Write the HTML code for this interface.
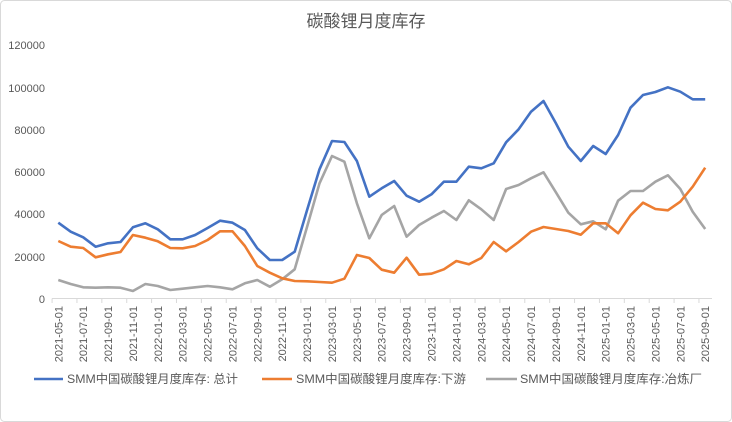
<!DOCTYPE html>
<html><head><meta charset="utf-8"><style>
body{margin:0;background:#fff;}
svg{display:block;font-family:"Liberation Sans","Noto Sans CJK SC",sans-serif;}
</style></head><body>
<svg id="s" width="732" height="422" viewBox="0 0 732 422" xmlns="http://www.w3.org/2000/svg">
<rect x="0.5" y="0.5" width="731" height="421" rx="4" fill="#fff" stroke="#d9d9d9"/>
<text x="366" y="27" text-anchor="middle" font-size="17" fill="#595959">碳酸锂月度库存</text>
<g font-size="11" fill="#595959" text-anchor="end">
<text x="45" y="303">0</text>
<text x="45" y="261">20000</text>
<text x="45" y="218">40000</text>
<text x="45" y="176">60000</text>
<text x="45" y="134">80000</text>
<text x="45" y="92">100000</text>
<text x="45" y="49">120000</text>
</g>
<line x1="52" y1="298.5" x2="712" y2="298.5" stroke="#d9d9d9"/>
<g id="ticks" stroke="#d9d9d9"></g>
<g id="xl" font-size="11" fill="#595959"></g>
<g id="lines" fill="none" stroke-width="2.6" stroke-linejoin="round"></g>
<g font-size="12" fill="#595959">
<line x1="34" y1="379" x2="63" y2="379" stroke="#4472c4" stroke-width="2.6"/>
<text x="67" y="383" textLength="171" lengthAdjust="spacingAndGlyphs">SMM中国碳酸锂月度库存: 总计</text>
<line x1="262" y1="379" x2="292" y2="379" stroke="#ed7d31" stroke-width="2.6"/>
<text x="296" y="383" textLength="170" lengthAdjust="spacingAndGlyphs">SMM中国碳酸锂月度库存:下游</text>
<line x1="486" y1="379" x2="517" y2="379" stroke="#a5a5a5" stroke-width="2.6"/>
<text x="520" y="383" textLength="182" lengthAdjust="spacingAndGlyphs">SMM中国碳酸锂月度库存:冶炼厂</text>
</g>
</svg>
<script>
var B=[578,605,622,650,640,636,592,580,598,628,628,615,594,572,578,600,655,690,690,665,540,418,333,336,393,500,475,453,497,515,493,455,455,410,415,400,337,298,245,213,280,350,393,348,372,315,233,195,186,172,185,208,208];
var O=[633,650,654,682,673,666,615,623,634,654,655,648,630,604,604,648,708,728,745,753,754,756,758,746,675,684,719,728,683,734,731,718,693,703,684,636,664,636,605,591,597,603,614,580,580,610,556,518,537,541,515,470,413];
var G=[750,762,772,773,772,773,783,762,768,780,776,772,768,772,778,760,750,770,748,718,590,460,378,395,520,625,555,528,620,585,563,543,570,511,538,570,477,465,445,427,487,548,583,574,598,512,483,483,455,436,477,545,597];
var ns="http://www.w3.org/2000/svg";
function X(i){return 58.3+12.44*i;}
function pl(a,c){var p=document.createElementNS(ns,"polyline");p.setAttribute("points",a.map(function(v,i){return X(i).toFixed(1)+","+(30+v/3).toFixed(1)}).join(" "));p.setAttribute("stroke",c);document.getElementById("lines").appendChild(p);}
pl(G,"#a5a5a5");pl(O,"#ed7d31");pl(B,"#4472c4");
var t=document.getElementById("ticks"),xl=document.getElementById("xl");
for(var i=0;i<=53;i+=2){var x=X(i)-6.22;var l=document.createElementNS(ns,"line");l.setAttribute("x1",x);l.setAttribute("x2",x);l.setAttribute("y1",298.5);l.setAttribute("y2",303);t.appendChild(l);}
for(var i=0;i<53;i+=2){var y=2021,m=5+i;y+=Math.floor((m-1)/12);m=(m-1)%12+1;var s=y+"-"+(m<10?"0":"")+m+"-01";var tx=document.createElementNS(ns,"text");var x=X(i)+4;tx.setAttribute("transform","translate("+x.toFixed(1)+",306) rotate(-90)");tx.setAttribute("text-anchor","end");tx.textContent=s;xl.appendChild(tx);}
</script>
</body></html>
